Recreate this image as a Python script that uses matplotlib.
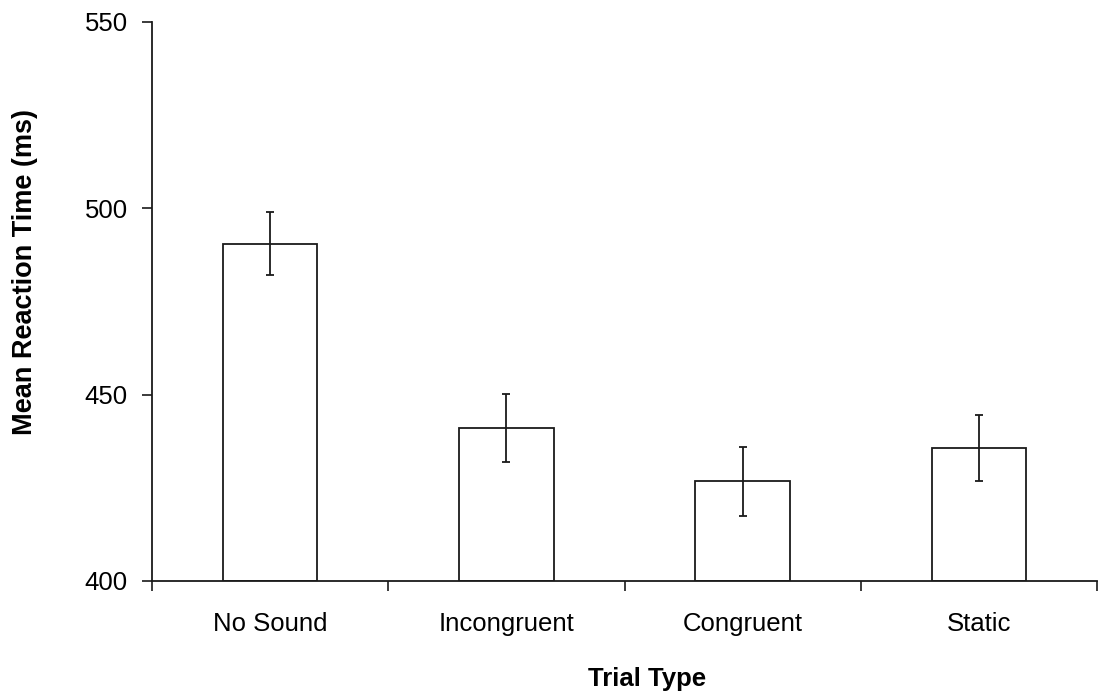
import matplotlib
matplotlib.use("Agg")
import matplotlib.pyplot as plt
import numpy as np

# Mean reaction times per trial type, with error bar half-widths
categories = ["No Sound", "Incongruent", "Congruent", "Static"]
mean_rt = [490.5, 441.0, 426.7, 435.7]
err_rt = [8.4, 9.2, 9.2, 8.9]
y_ticks = [400, 450, 500, 550]

plt.rcParams["font.family"] = ["Liberation Sans", "DejaVu Sans"]

fig = plt.figure(figsize=(10.98, 6.97), dpi=100)
ax = fig.add_axes([152 / 1098, 1 - 581 / 697, (1097 - 152) / 1098, (581 - 22) / 697])

x = np.arange(len(categories))
line_col = "#1a1a1a"
ax.bar(x, [m - 400 for m in mean_rt], bottom=400, width=0.4,
       color="white", edgecolor=line_col, linewidth=1.3, zorder=2)
ax.errorbar(x, mean_rt, yerr=err_rt, fmt="none", ecolor=line_col,
            elinewidth=1.3, capsize=2.8, capthick=1.3, zorder=3)

ax.set_xlim(-0.5, len(categories) - 0.5)
ax.set_ylim(400, 550)

# Category boundaries carry the tick marks; names sit between them
ax.set_xticks(np.arange(len(categories) + 1) - 0.5)
ax.set_xticklabels([])
ax.set_xticks(x, minor=True)
ax.set_xticklabels(categories, minor=True, fontsize=18.5)
ax.tick_params(axis="x", which="major", direction="out", length=7, width=1.2, color=line_col)
ax.tick_params(axis="x", which="minor", length=0, pad=22)

ax.set_yticks(y_ticks)
ax.set_yticklabels([str(v) for v in y_ticks], fontsize=18.5)
ax.tick_params(axis="y", direction="out", length=7.5, width=1.2, color=line_col, pad=10)

for side in ("top", "right"):
    ax.spines[side].set_visible(False)
for side in ("left", "bottom"):
    ax.spines[side].set_color(line_col)
    ax.spines[side].set_linewidth(1.3)

ax.set_ylabel("Mean Reaction Time (ms)", fontsize=19.5, fontweight="bold")
ax.yaxis.set_label_coords(-(152 - 38) / 945, (581 - 272) / 559)
ax.set_xlabel("Trial Type", fontsize=18.5, fontweight="bold")
ax.xaxis.set_label_coords((647 - 152) / 945, -(667 - 581) / 559)

fig.savefig("out.png", dpi=100, facecolor="white")
